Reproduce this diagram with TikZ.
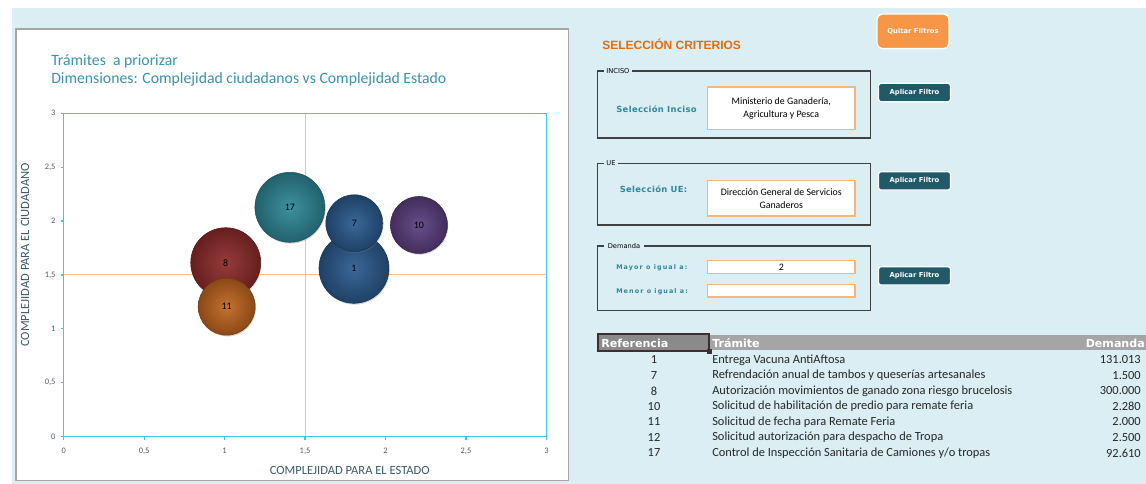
\documentclass[tikz,border=0pt]{standalone}
\usepackage{fontspec}
\setmainfont{Carlito}
\newfontfamily\dvfont{DejaVu Sans}
\newfontfamily\lsfont{Liberation Sans}
\usetikzlibrary{shadows}
\definecolor{bgblue}{HTML}{DAEEF3}
\definecolor{framegray}{HTML}{A6A6A6}
\definecolor{titleteal}{HTML}{3A93AC}
\definecolor{axiscyan}{HTML}{3CC6F4}
\definecolor{crosspeach}{HTML}{FAC090}
\definecolor{axtitlecol}{HTML}{3D5B67}
\definecolor{ticklab}{HTML}{595959}
\definecolor{critorange}{HTML}{E46C0A}
\definecolor{btnorange}{HTML}{F79646}
\definecolor{btnteal}{HTML}{215968}
\definecolor{lblteal}{HTML}{31859C}
\definecolor{boxgray}{HTML}{404040}
\definecolor{inborder}{HTML}{F8B678}
\definecolor{headgray}{HTML}{A5A5A5}
\definecolor{refgray}{HTML}{8A8A8A}
\definecolor{refborder}{HTML}{3B302F}
\definecolor{cteal}{HTML}{2E8797}
\definecolor{cblue}{HTML}{2A5A8E}
\definecolor{cpurple}{HTML}{5B3F7F}
\definecolor{cred}{HTML}{8E2A2A}
\definecolor{corange}{HTML}{C0651F}
\tikzset{
  bubble/.style={circle,inner sep=0pt,line width=0.4pt,
    font=\fontsize{7.4pt}{8pt}\selectfont,
    drop shadow={opacity=0.3,shadow xshift=0.6pt,shadow yshift=-1pt},
    inner color=#1!92!white,outer color=#1!72!black,draw=#1!60!black},
  bigb/.style={minimum size=52.5pt},
  smallb/.style={minimum size=42.75pt},
  ticklbl/.style={text=ticklab,inner sep=0pt,font=\fontsize{6.3pt}{6.5pt}\selectfont},
  axtitle/.style={text=axtitlecol,inner sep=0pt,font=\fontsize{9.4pt}{10pt}\selectfont},
  charttitle/.style={text=titleteal,anchor=west,inner sep=0pt,font=\fontsize{11.8pt}{13pt}\selectfont},
  aplicarbtn/.style={draw=white,line width=0.9pt,fill=btnteal,rounded corners=2pt,
    text=white,minimum width=54pt,minimum height=13.8pt,inner sep=0pt,
    font=\dvfont\bfseries\fontsize{5.1pt}{5.5pt}\selectfont},
  quitarbtn/.style={draw=white,line width=1pt,fill=btnorange,rounded corners=4pt,
    text=white,minimum width=54pt,minimum height=26pt,inner sep=0pt,
    font=\dvfont\bfseries\fontsize{5.1pt}{5.5pt}\selectfont},
  inbox/.style={draw=inborder,line width=1pt,fill=white,minimum width=110.8pt,
    inner sep=0pt,align=center,font=\fontsize{7.4pt}{9.8pt}\selectfont},
  grouplbl/.style={fill=bgblue,anchor=west,inner xsep=2pt,inner ysep=0pt,
    font=\dvfont\fontsize{5pt}{5pt}\selectfont},
  critlbl/.style={text=lblteal,inner sep=0pt,
    font=\dvfont\bfseries\fontsize{6.3pt}{6.5pt}\selectfont\addfontfeature{LetterSpace=4}},
  smalllbl/.style={text=lblteal,anchor=west,inner sep=0pt,
    font=\dvfont\bfseries\fontsize{4.8pt}{5pt}\selectfont\addfontfeature{LetterSpace=17}},
  groupbox/.style={draw=boxgray,line width=1.1pt},
  tabtext/.style={text=black!85,inner sep=0pt,font=\fontsize{9.3pt}{10pt}\selectfont},
  headtext/.style={text=white,inner sep=0pt,font=\dvfont\bfseries\fontsize{8.3pt}{8.5pt}\selectfont}
}
\begin{document}
\begin{tikzpicture}[x=0.75pt,y=-0.75pt]
\useasboundingbox (0,0) rectangle (1146,484);
\fill[white] (0,0) rectangle (1146,484);
\fill[bgblue] (11.5,8) rectangle (1146,484);
\draw[framegray,line width=1.1pt,fill=white] (16,29) rectangle (568.5,480.5);
\node[charttitle] (title1) at (51,61) {Trámites\ \ a priorizar};
\node[charttitle] (title2) at (51,79) {Dimensiones: Complejidad ciudadanos vs Complejidad Estado};
\begin{scope}[shift={(47.775pt,-327.525pt)},x=120.675pt,y=80.85pt]
\draw[crosspeach,line width=0.75pt] (1.5,0) -- (1.5,3);
\draw[crosspeach,line width=0.75pt] (0,1.5) -- (3,1.5);
\draw[axiscyan,line width=0.9pt] (0,0) rectangle (3,3);
\foreach \v/\l [count=\i] in {0/0,0.5/{0,5},1/1,1.5/{1,5},2/2,2.5/{2,5},3/3}{
  \draw[axiscyan,line width=0.9pt] (\v,0) -- (\v,-0.028);
  \node[ticklbl] (xt\i) at (\v,-0.133) {\l};
  \draw[axiscyan,line width=0.9pt] (0,\v) -- (-0.018,\v);
  \node[ticklbl,anchor=east] (yt\i) at (-0.05,\v) {\l};
}
\node[bubble=cred,bigb] (b8) at (1.007,1.614) {8};
\node[bubble=corange,smallb] (b11) at (1.013,1.206) {11};
\node[bubble=cteal,bigb] (b17) at (1.406,2.128) {17};
\node[bubble=cblue,bigb] (b1) at (1.804,1.562) {1};
\node[bubble=cblue,smallb] (b7) at (1.806,1.980) {7};
\node[bubble=cpurple,smallb] (b10) at (2.208,1.964) {10};
\end{scope}
\node[axtitle] (xtitle) at (349.7,470) {COMPLEJIDAD PARA EL ESTADO};
\node[axtitle,rotate=90] (ytitle) at (25,255) {COMPLEJIDAD PARA EL CIUDADANO};
\node[anchor=west,inner sep=0pt,text=critorange,font=\lsfont\bfseries\fontsize{9pt}{9.5pt}\selectfont] (crit) at (602,44) {SELECCIÓN CRITERIOS};
\node[quitarbtn] (quitar) at (913,31.3) {Quitar Filtros};
\draw[groupbox] (597.3,71) rectangle (870.6,138);
\node[grouplbl] (glinciso) at (603.5,71) {INCISO};
\node[critlbl] (lblinciso) at (656.5,109) {Selección Inciso};
\node[inbox,minimum height=31.7pt] (ininciso) at (781.25,108.2) {Ministerio de Ganadería,\\Agricultura y Pesca};
\node[aplicarbtn] (apinciso) at (914.5,92.5) {Aplicar Filtro};
\draw[groupbox] (597.3,163.3) rectangle (870.6,225);
\node[grouplbl] (glue) at (603.5,163.3) {UE};
\node[critlbl] (lblue) at (653.5,189.3) {Selección UE:};
\node[inbox,minimum height=26.5pt] (inue) at (781.25,198.3) {Dirección General de Servicios\\Ganaderos};
\node[aplicarbtn] (apue) at (914.5,180.9) {Aplicar Filtro};
\draw[groupbox] (597.3,246) rectangle (870.6,310.7);
\node[grouplbl,inner xsep=3pt] (gldem) at (603.5,246) {Demanda\hspace{6pt}};
\node[smalllbl] (lblmayor) at (616,267.3) {Mayor o igual a:};
\node[smalllbl] (lblmenor) at (616,291.3) {Menor o igual a:};
\node[inbox,minimum height=9.5pt] (inmayor) at (781.25,267) {2};
\node[inbox,minimum height=9.5pt] (inmenor) at (781.25,290.7) {};
\node[aplicarbtn] (apdem) at (914.5,275.9) {Aplicar Filtro};
\fill[headgray] (597,335) rectangle (1146,350);
\draw[refborder,line width=1.4pt,fill=refgray] (598,334) rectangle (709,351);
\fill[refborder] (706.5,349) rectangle (711.5,354);
\node[headtext,anchor=west] (hdref) at (601,343) {Referencia};
\node[headtext,anchor=west] (hdtram) at (712,343) {Trámite};
\node[headtext,anchor=east] (hddem) at (1145,343) {Demanda};
\foreach \r/\t/\d [count=\i] in {
  1/Entrega Vacuna AntiAftosa/131.013,
  7/Refrendación anual de tambos y queserías artesanales/1.500,
  8/Autorización movimientos de ganado zona riesgo brucelosis/300.000,
  10/Solicitud de habilitación de predio para remate feria/2.280,
  11/Solicitud de fecha para Remate Feria/2.000,
  12/Solicitud autorización para despacho de Tropa/2.500,
  17/{Control de Inspección Sanitaria de Camiones y/o tropas}/92.610}{
  \pgfmathsetmacro\yy{344.5+15.5*\i}
  \node[tabtext] (ref\i) at (654,\yy) {\r};
  \node[tabtext,anchor=west] (tram\i) at (712,\yy) {\t};
  \node[tabtext,anchor=east] (dem\i) at (1141,\yy) {\d};
}
\end{tikzpicture}
\end{document}
